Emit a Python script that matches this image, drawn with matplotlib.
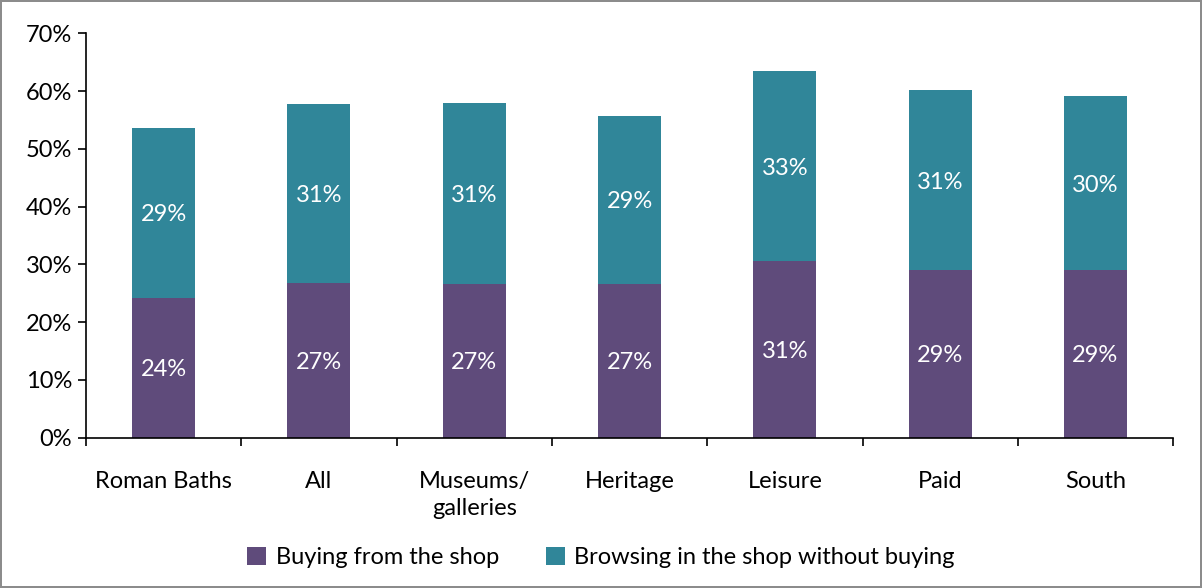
import numpy as np
import matplotlib
matplotlib.use('Agg')
import matplotlib.pyplot as plt
from matplotlib.ticker import PercentFormatter

categories = ['Roman Baths', 'All', 'Museums/\ngalleries', 'Heritage', 'Leisure', 'Paid', 'South']
buying = [24.2, 26.8, 26.6, 26.6, 30.6, 29.0, 29.0]
browsing = [29.4, 30.9, 31.4, 29.1, 32.8, 31.1, 30.1]
series_names = ['Buying from the shop', 'Browsing in the shop without buying']

purple = '#5F4B7B'
teal = '#308699'

plt.rcParams['font.family'] = ['Lato', 'DejaVu Sans']

fig = plt.figure(figsize=(12.02, 5.88), dpi=100)
fig.patch.set_edgecolor('#8c8c8c')
fig.patch.set_linewidth(1.5)
ax = fig.add_axes([0.0715, 0.2556, 0.9045, 0.6878])

x = np.arange(len(categories))
w = 0.405
b1 = ax.bar(x, buying, w, color=purple, label=series_names[0], zorder=2)
b2 = ax.bar(x, browsing, w, bottom=buying, color=teal, label=series_names[1], zorder=2)

for i in range(len(x)):
    ax.text(x[i], buying[i] / 2, '%.0f%%' % buying[i], ha='center', va='center_baseline',
            color='white', fontsize=17)
    ax.text(x[i], buying[i] + browsing[i] / 2, '%.0f%%' % browsing[i], ha='center',
            va='center_baseline', color='white', fontsize=17)

ax.set_xlim(-0.5, len(categories) - 0.5)
ax.set_ylim(0, 70)
ax.set_yticks(np.arange(0, 71, 10))
ax.yaxis.set_major_formatter(PercentFormatter(decimals=0))

ax.set_xticks(x)
ax.set_xticklabels(categories, fontsize=17, linespacing=1.35, va='top')
ax.set_xticks(np.arange(-0.5, len(categories), 1), minor=True)
ax.tick_params(axis='x', which='major', length=0, pad=24)
ax.tick_params(axis='x', which='minor', length=6, width=1.2, direction='out')
ax.tick_params(axis='y', length=6, width=1.2, direction='out', labelsize=17, pad=4)

for s in ['top', 'right']:
    ax.spines[s].set_visible(False)
ax.spines['left'].set_linewidth(1.2)
ax.spines['bottom'].set_linewidth(1.2)

fig.legend(handles=[b1, b2], loc='center', bbox_to_anchor=(0.5, 0.052), ncol=2,
           frameon=False, fontsize=17, handlelength=0.8, handleheight=0.8,
           handletextpad=0.4, columnspacing=2.0)

fig.savefig('out.png', dpi=100, facecolor='white', edgecolor=fig.patch.get_edgecolor())
